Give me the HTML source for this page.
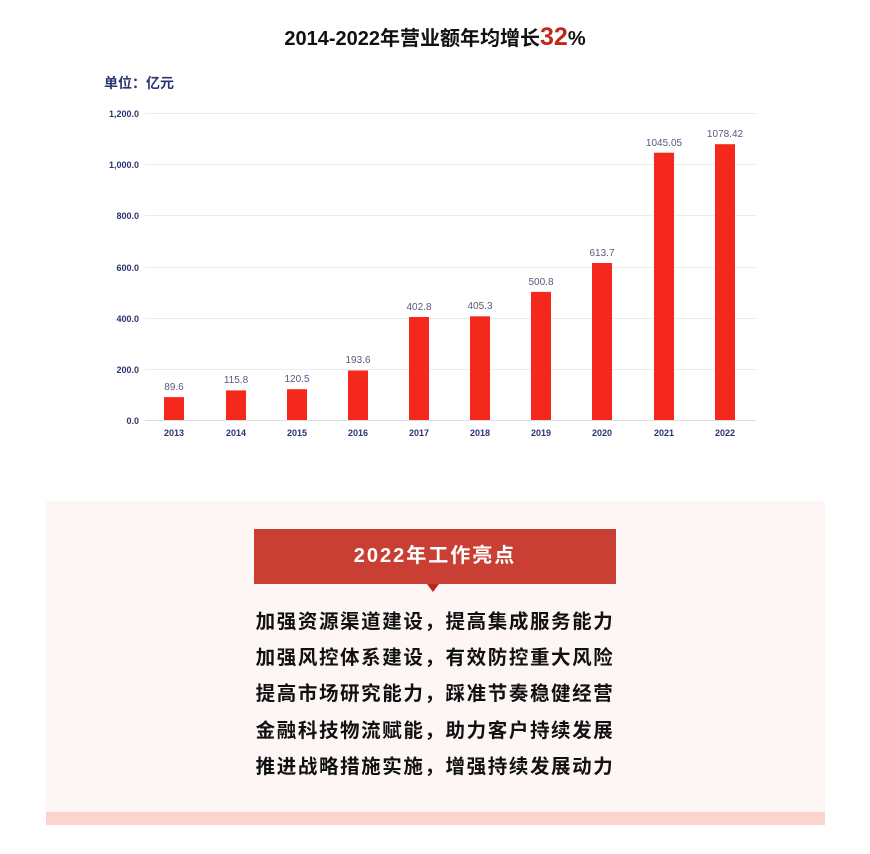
<!DOCTYPE html>
<html><head><meta charset="utf-8"><style>
body{margin:0;width:870px;height:854px;background:#fff;font-family:"Liberation Sans","Noto Sans CJK SC",sans-serif;position:relative;overflow:hidden}
.t{position:absolute;left:0;width:870px;top:22px;text-align:center;font-size:20px;font-weight:bold;color:#111}
.t b{color:#c0281c;font-size:25px}
.panel{position:absolute;left:46px;top:501px;width:779px;height:311px;background:#fdf6f5}
.band{position:absolute;left:46px;top:812px;width:779px;height:13px;background:#fcd3cd}
.hd{position:absolute;left:254px;top:529px;width:362px;height:55px;background:#c93f33;color:#fff;font-size:20px;font-weight:bold;text-align:center;line-height:55px;letter-spacing:2px}
.tri{position:absolute;left:427px;top:584px;width:0;height:0;border-left:6px solid transparent;border-right:6px solid transparent;border-top:8px solid #b8281d}
.lines{position:absolute;left:0;width:870px;top:604px;text-align:center;font-size:19.5px;font-weight:bold;color:#111;line-height:36.2px;letter-spacing:1.6px}
</style></head><body>
<div class="t">2014-2022年营业额年均增长<b>32</b>%</div>
<svg width="870" height="460" style="position:absolute;left:0;top:0" font-family="Liberation Sans, Noto Sans CJK SC, sans-serif">
<text x="104" y="88" font-size="14" font-weight="bold" fill="#2c3470">单位：亿元</text>
<g stroke="#ececec" stroke-width="1">
<line x1="145" x2="756" y1="113.5" y2="113.5"/><line x1="145" x2="756" y1="164.5" y2="164.5"/><line x1="145" x2="756" y1="215.5" y2="215.5"/><line x1="145" x2="756" y1="267.5" y2="267.5"/><line x1="145" x2="756" y1="318.5" y2="318.5"/><line x1="145" x2="756" y1="369.5" y2="369.5"/><line x1="145" x2="756" y1="420.5" y2="420.5" stroke="#ddd"/>
</g>
<g font-size="9" font-weight="bold" fill="#2c3470" text-anchor="end">
<text x="139" y="117">1,200.0</text><text x="139" y="168">1,000.0</text><text x="139" y="219">800.0</text><text x="139" y="271">600.0</text><text x="139" y="322">400.0</text><text x="139" y="373">200.0</text><text x="139" y="424">0.0</text>
</g>
<g fill="#f5281e">
<rect x="164" y="397.1" width="20" height="22.9"/>
<rect x="226" y="390.4" width="20" height="29.6"/>
<rect x="287" y="389.2" width="20" height="30.8"/>
<rect x="348" y="370.5" width="20" height="49.5"/>
<rect x="409" y="317" width="20" height="103"/>
<rect x="470" y="316.3" width="20" height="103.7"/>
<rect x="531" y="291.9" width="20" height="128.1"/>
<rect x="592" y="263" width="20" height="157"/>
<rect x="654" y="152.7" width="20" height="267.3"/>
<rect x="715" y="144.2" width="20" height="275.8"/>
</g>
<g font-size="10" fill="#555a80" text-anchor="middle">
<text x="174" y="390">89.6</text><text x="236" y="383">115.8</text><text x="297" y="382">120.5</text><text x="358" y="363">193.6</text><text x="419" y="310">402.8</text><text x="480" y="309">405.3</text><text x="541" y="285">500.8</text><text x="602" y="256">613.7</text><text x="664" y="146">1045.05</text><text x="725" y="137">1078.42</text>
</g>
<g font-size="9" font-weight="bold" fill="#2c3470" text-anchor="middle">
<text x="174" y="436">2013</text><text x="236" y="436">2014</text><text x="297" y="436">2015</text><text x="358" y="436">2016</text><text x="419" y="436">2017</text><text x="480" y="436">2018</text><text x="541" y="436">2019</text><text x="602" y="436">2020</text><text x="664" y="436">2021</text><text x="725" y="436">2022</text>
</g>
</svg>
<div class="panel"></div><div class="band"></div>
<div class="hd">2022年工作亮点</div><div class="tri"></div>
<div class="lines">加强资源渠道建设，提高集成服务能力<br>加强风控体系建设，有效防控重大风险<br>提高市场研究能力，踩准节奏稳健经营<br>金融科技物流赋能，助力客户持续发展<br>推进战略措施实施，增强持续发展动力</div>
</body></html>
